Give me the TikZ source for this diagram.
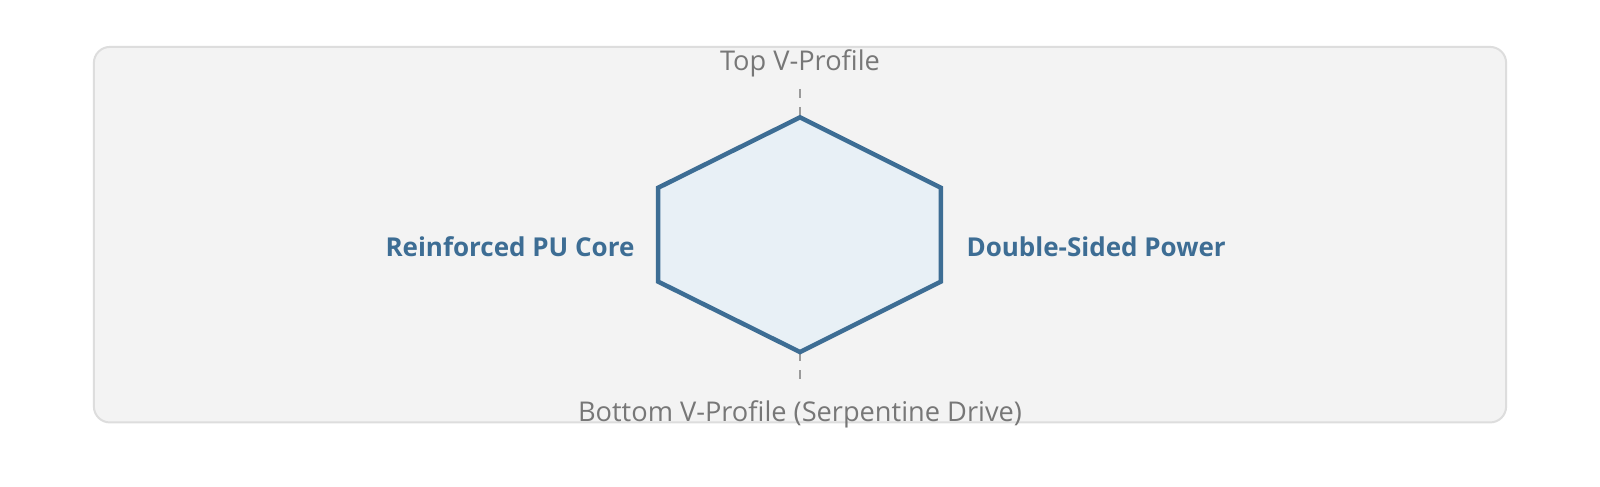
\documentclass[tikz,border=0pt]{standalone}
\usepackage{fontspec}
\setmainfont{Open Sans}
\definecolor{panelfill}{HTML}{F3F3F3}
\definecolor{paneldraw}{HTML}{DDDDDD}
\definecolor{hexblue}{HTML}{3D6D94}
\definecolor{hexfill}{HTML}{E8F0F6}
\definecolor{labgray}{HTML}{777777}
\definecolor{dashgray}{HTML}{9A9A9A}
\tikzset{
  axislabel/.style={font=\fontsize{27.2}{32}\selectfont, text=labgray, inner sep=0pt},
  sidelabel/.style={font=\fontsize{26}{31}\selectfont\bfseries, text=hexblue, inner sep=0pt},
  guide/.style={draw=dashgray, line width=2pt, dash pattern=on 9pt off 9pt},
}
\begin{document}
\begin{tikzpicture}[x=1.0204pt,y=-1.0204pt]
\useasboundingbox (0,0) rectangle (1568,476.3);
\fill[white] (0,0) rectangle (1568,476.3);
\draw[fill=panelfill, draw=paneldraw, line width=2pt, rounded corners=16pt] (92,46) rectangle (1476,414);
\coordinate (t) at (784,115);
\coordinate (ur) at (922,184);
\coordinate (lr) at (922,276);
\coordinate (b) at (784,345);
\coordinate (ll) at (645,276);
\coordinate (ul) at (645,184);
\coordinate (tend) at (784,87);
\coordinate (bend) at (784,373);
\draw[guide] (tend) -- (t);
\draw[guide] (b) -- (bend);
\draw[fill=hexfill, draw=hexblue, line width=4.5pt, line join=miter] (t) -- (ur) -- (lr) -- (b) -- (ll) -- (ul) -- cycle;
\node[axislabel, anchor=base] (toplab) at (784,69.3) {Top V-Profile};
\node[axislabel, anchor=base] (botlab) at (784,413.3) {Bottom V-Profile (Serpentine Drive)};
\node[sidelabel, anchor=base east] (leftlab) at (622,251.5) {Reinforced PU Core};
\node[sidelabel, anchor=base west] (rightlab) at (947,251.5) {Double-Sided Power};
\end{tikzpicture}
\end{document}
